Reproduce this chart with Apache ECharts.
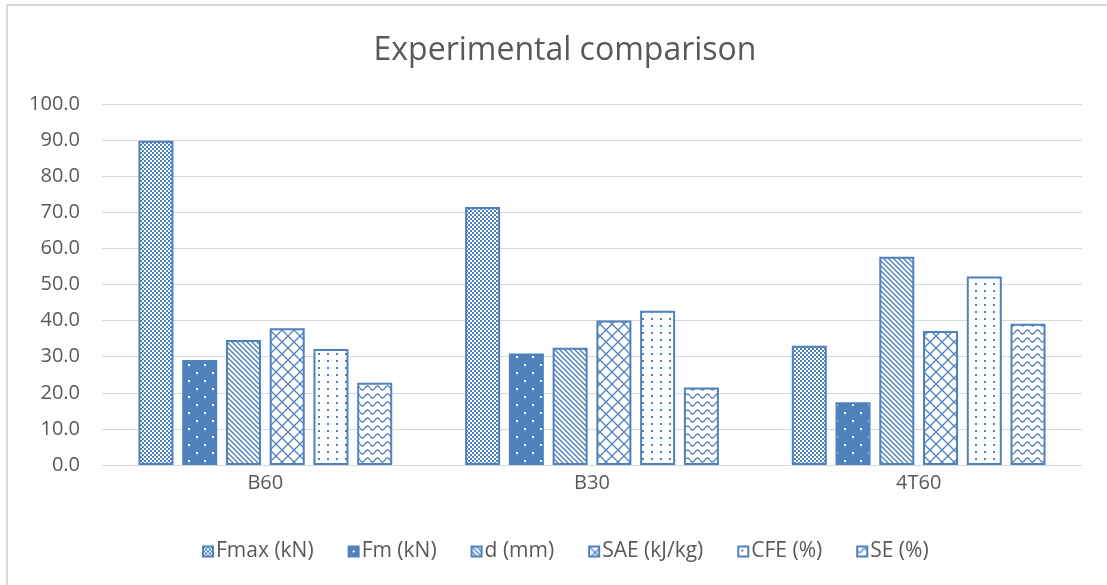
<!DOCTYPE html>
<html>
<head>
<meta charset="utf-8">
<script src="https://cdn.jsdelivr.net/npm/echarts@6/dist/echarts.min.js"></script>
<style>
  html, body { margin: 0; padding: 0; background: #fff; }
  #chart { width: 1107px; height: 585px; }
</style>
</head>
<body>
<div id="chart"></div>
<script>
// Specimen groups and measured quantities
const categories = ['B60', 'B30', '4T60'];
const seriesNames = ['Fmax (kN)', 'Fm (kN)', 'd (mm)', 'SAE (kJ/kg)', 'CFE (%)', 'SE (%)'];
const fmax = [89.8, 71.5, 33.0];
const fm = [29.1, 30.9, 17.4];
const dMm = [34.6, 32.5, 57.7];
const sae = [37.9, 40.0, 37.1];
const cfe = [32.1, 42.7, 52.2];
const se = [22.8, 21.5, 39.1];
const yTicks = [0, 10, 20, 30, 40, 50, 60, 70, 80, 90, 100];

const BLUE = '#4F81BD';
const TEXT = '#595959';
const GRID = '#D9D9D9';
const FONT = '"Open Sans", "Liberation Sans", sans-serif';

// Small tiled canvases used as hatch fills
function tile(w, h, draw) {
  const c = document.createElement('canvas');
  c.width = w; c.height = h;
  const ctx = c.getContext('2d');
  draw(ctx, w, h);
  return { image: c, repeat: 'repeat' };
}

const patChecker = tile(4, 4, (ctx) => {
  ctx.fillStyle = '#fff'; ctx.fillRect(0, 0, 4, 4);
  ctx.fillStyle = BLUE; ctx.fillRect(0, 0, 2, 2); ctx.fillRect(2, 2, 2, 2);
});

const patSolidDots = tile(16, 16, (ctx) => {
  ctx.fillStyle = BLUE; ctx.fillRect(0, 0, 16, 16);
  ctx.fillStyle = '#fff'; ctx.fillRect(4, 4, 2, 2); ctx.fillRect(12, 12, 2, 2);
});

const patDiag = tile(5, 5, (ctx, w, h) => {
  ctx.fillStyle = '#fff'; ctx.fillRect(0, 0, w, h);
  ctx.strokeStyle = BLUE; ctx.lineWidth = 1.4;
  for (let k = -1; k <= 1; k++) {
    ctx.beginPath();
    ctx.moveTo(k * w - w, -h); ctx.lineTo(k * w + 2 * w, 2 * h);
    ctx.stroke();
  }
});

const patLattice = tile(12, 12, (ctx, w, h) => {
  ctx.fillStyle = '#fff'; ctx.fillRect(0, 0, w, h);
  ctx.strokeStyle = BLUE; ctx.lineWidth = 1.3;
  for (let k = -1; k <= 1; k++) {
    ctx.beginPath();
    ctx.moveTo(k * w - w, -h); ctx.lineTo(k * w + 2 * w, 2 * h);
    ctx.moveTo(k * w + 2 * w, -h); ctx.lineTo(k * w - w, 2 * h);
    ctx.stroke();
  }
});

const patSparseDots = tile(9, 7, (ctx, w, h) => {
  ctx.fillStyle = '#fff'; ctx.fillRect(0, 0, w, h);
  ctx.fillStyle = BLUE; ctx.fillRect(3, 3, 2, 2);
});

const patWave = tile(10, 8, (ctx, w, h) => {
  ctx.fillStyle = '#fff'; ctx.fillRect(0, 0, w, h);
  ctx.strokeStyle = BLUE; ctx.lineWidth = 1.3;
  ctx.beginPath();
  for (let x = 0; x <= w; x += 0.5) {
    const y = 4 + 2 * Math.sin((2 * Math.PI * x) / w);
    if (x === 0) ctx.moveTo(x, y); else ctx.lineTo(x, y);
  }
  ctx.stroke();
});

const values = [fmax, fm, dMm, sae, cfe, se];
const fills = [patChecker, patSolidDots, patDiag, patLattice, patSparseDots, patWave];

const chart = echarts.init(document.getElementById('chart'), null, { renderer: 'canvas' });

chart.setOption({
  backgroundColor: '#fff',
  animation: false,
  title: {
    text: 'Experimental comparison',
    left: 560,
    top: 30,
    textAlign: 'center',
    textStyle: { fontFamily: FONT, fontSize: 32, fontWeight: 'normal', color: TEXT }
  },
  graphic: [{
    type: 'rect',
    shape: { x: 7, y: 5, width: 1200, height: 700 },
    style: { fill: 'none', stroke: GRID, lineWidth: 2 },
    silent: true,
    z: -1
  }],
  legend: {
    data: seriesNames,
    left: 197,
    top: 536,
    itemWidth: 10,
    itemHeight: 10,
    itemGap: 34,
    icon: 'rect',
    textStyle: { fontFamily: FONT, fontSize: 21, color: TEXT, padding: [0, 0, 0, -2] }
  },
  grid: { left: 102, right: 25, top: 104, bottom: 120 },
  xAxis: {
    type: 'category',
    data: categories,
    axisLine: { lineStyle: { color: GRID, width: 1 } },
    axisTick: { show: false },
    axisLabel: { fontFamily: FONT, fontSize: 20, color: TEXT, margin: 8 }
  },
  yAxis: {
    type: 'value',
    min: yTicks[0],
    max: yTicks[yTicks.length - 1],
    interval: yTicks[1] - yTicks[0],
    axisLine: { show: false },
    axisTick: { show: false },
    splitLine: { lineStyle: { color: GRID, width: 1 } },
    axisLabel: {
      fontFamily: FONT, fontSize: 20, color: TEXT, margin: 22,
      formatter: (v) => v.toFixed(1)
    }
  },
  series: seriesNames.map((name, i) => ({
    name,
    type: 'bar',
    data: values[i],
    barWidth: 35,
    barGap: '25%',
    itemStyle: { color: fills[i], borderColor: BLUE, borderWidth: 2 }
  }))
});
</script>
</body>
</html>
